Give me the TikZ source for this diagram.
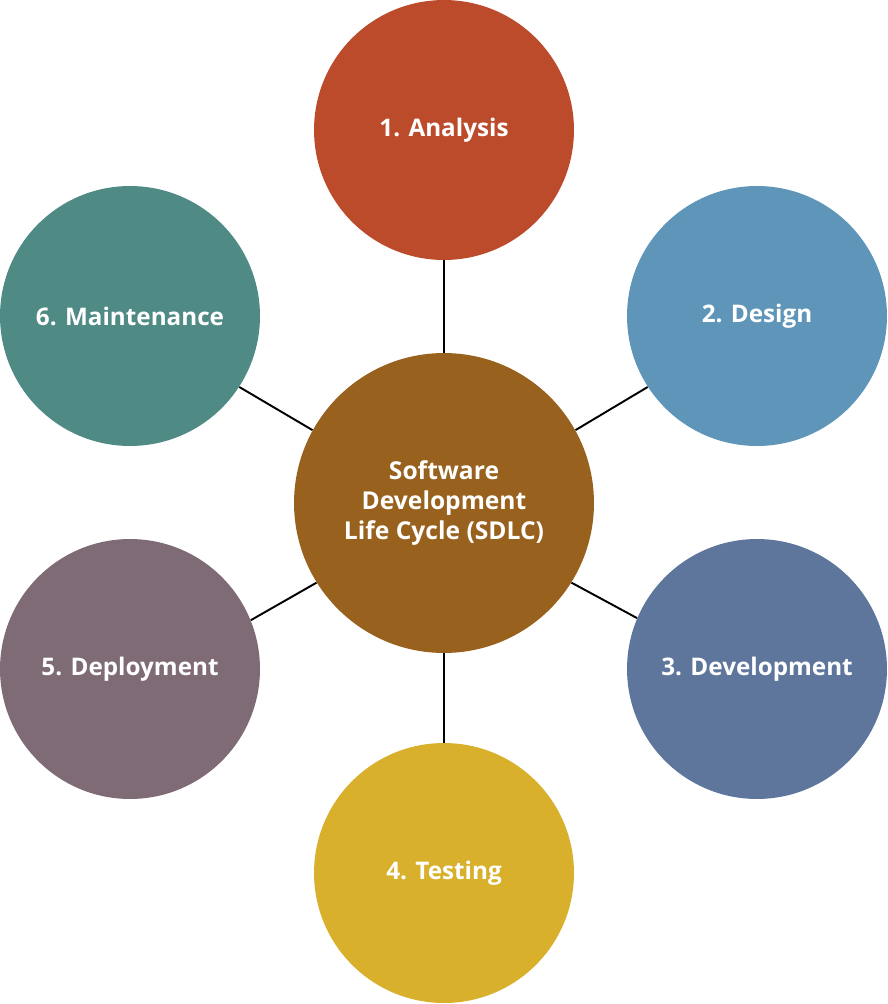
\documentclass[tikz,border=0pt]{standalone}
\usepackage{fontspec}
\setmainfont{Open Sans}
\usetikzlibrary{positioning}

\begin{document}
\begin{tikzpicture}
			[x=0.02cm,y=-0.02cm,
			%Styles
			phase/.style={circle,minimum size=5.2cm,inner sep=0pt,fill=#1,text=white,font=\bfseries\fontsize{13.8}{17}\selectfont},
			hub/.style={circle,minimum size=6cm,inner sep=0pt,fill=hubcolor,text=white,align=center,font=\bfseries\fontsize{14}{17.3}\selectfont},
			spoke/.style={line width=1.1pt,black}
			]
			
			%Colors
			\definecolor{hubcolor}{HTML}{98621E}
			\definecolor{analysiscolor}{HTML}{BC4B2C}
			\definecolor{designcolor}{HTML}{5F95B8}
			\definecolor{developcolor}{HTML}{5E769C}
			\definecolor{testcolor}{HTML}{D8B02B}
			\definecolor{deploycolor}{HTML}{7E6B75}
			\definecolor{maintaincolor}{HTML}{4F8A85}
			
			\useasboundingbox (0,0) rectangle (887,1004);
			
			%The graphic
			\node [hub] (sdlc) at (444,503) {Software\\Development\\Life Cycle (SDLC)};
			\node [phase=analysiscolor] (analysis) at (444,130) {1. Analysis};
			\node [phase=designcolor] (design) at (757,316) {2. Design};
			\node [phase=developcolor] (develop) at (757,669) {3. Development};
			\node [phase=testcolor] (test) at (444,873) {4. Testing};
			\node [phase=deploycolor] (deploy) at (130,669) {5. Deployment};
			\node [phase=maintaincolor] (maintain) at (130,316) {6. Maintenance};
			
			%spokes: hub angle / phase angle
			\foreach \p/\a/\b in {analysis/90/270,design/29/213,develop/-32/157,test/-90/90,deploy/212/22,maintain/151/-33}
				\draw[spoke] (sdlc.\a) -- (\p.\b);
		\end{tikzpicture}
\end{document}
